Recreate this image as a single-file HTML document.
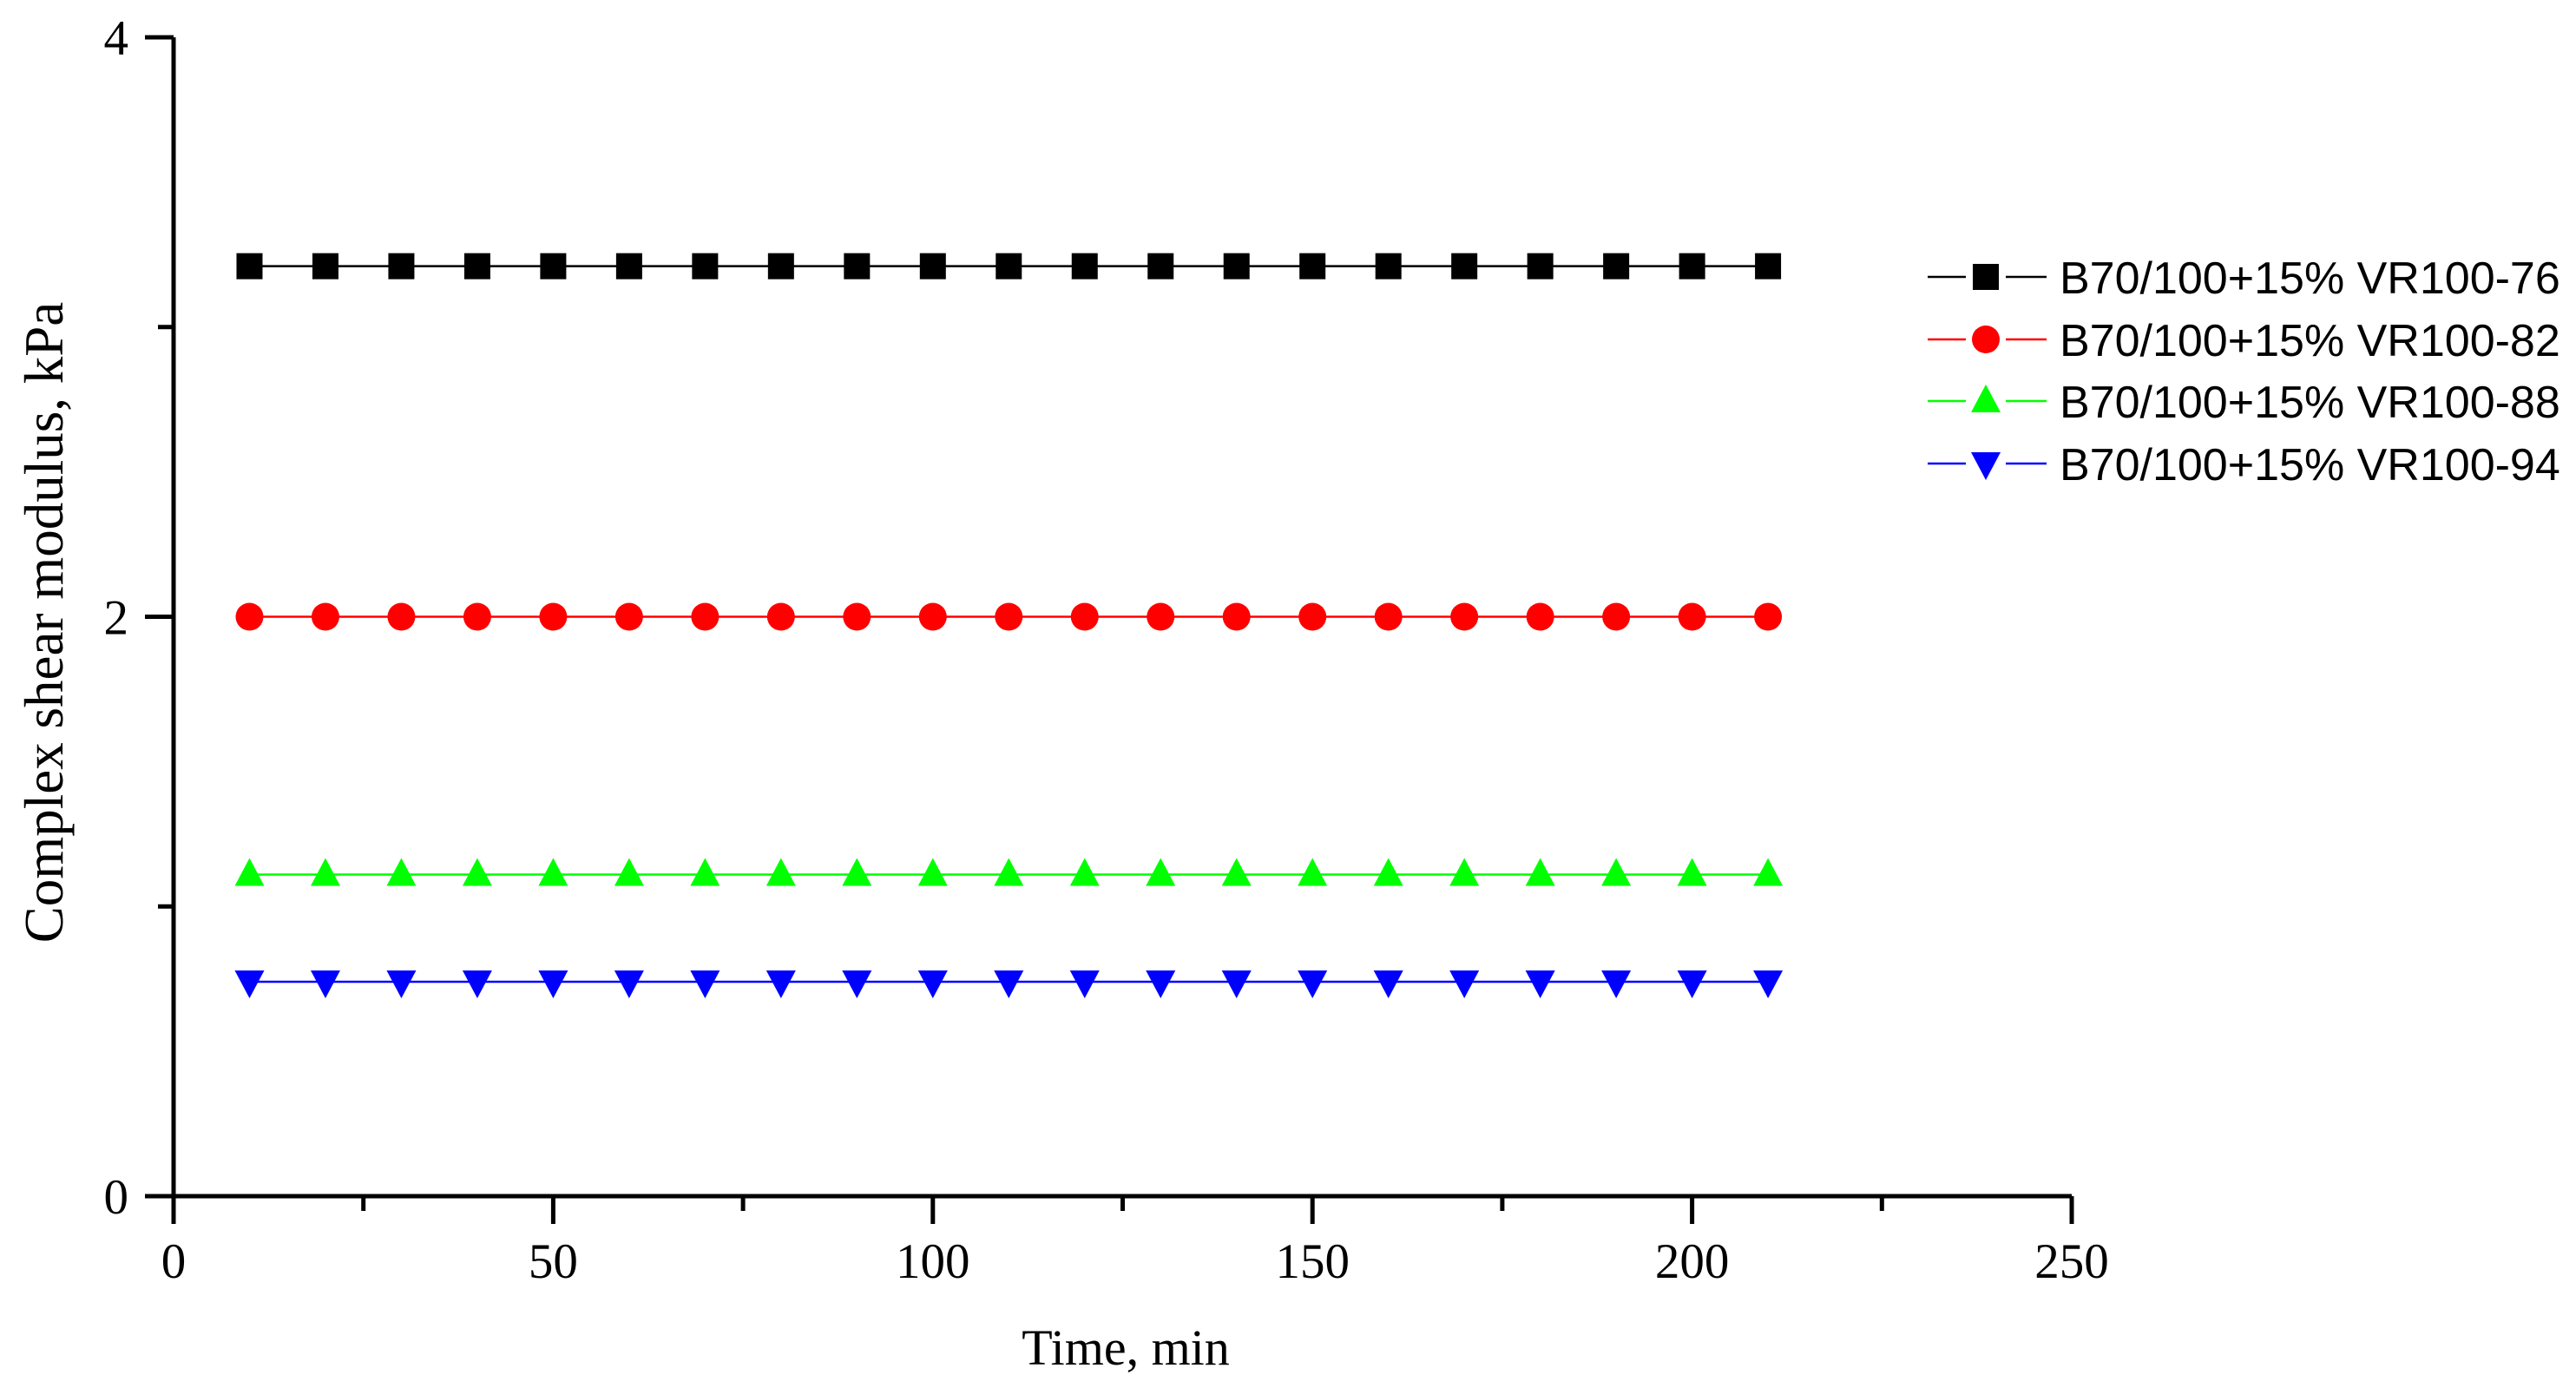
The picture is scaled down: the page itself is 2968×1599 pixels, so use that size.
<!DOCTYPE html>
<html><head><meta charset="utf-8"><style>html,body{margin:0;padding:0;background:#fff}svg{display:block}</style></head>
<body>
<svg id="chart" width="2968" height="1599" xmlns="http://www.w3.org/2000/svg"></svg>
<script>
const times=[10,20,30,40,50,60,70,80,90,100,110,120,130,140,150,160,170,180,190,200,210];
const seriesNames=["B70/100+15% VR100-76","B70/100+15% VR100-82","B70/100+15% VR100-88","B70/100+15% VR100-94"];
const s76=[3.21,3.21,3.21,3.21,3.21,3.21,3.21,3.21,3.21,3.21,3.21,3.21,3.21,3.21,3.21,3.21,3.21,3.21,3.21,3.21,3.21];
const s82=[2.0,2.0,2.0,2.0,2.0,2.0,2.0,2.0,2.0,2.0,2.0,2.0,2.0,2.0,2.0,2.0,2.0,2.0,2.0,2.0,2.0];
const s88=[1.11,1.11,1.11,1.11,1.11,1.11,1.11,1.11,1.11,1.11,1.11,1.11,1.11,1.11,1.11,1.11,1.11,1.11,1.11,1.11,1.11];
const s94=[0.74,0.74,0.74,0.74,0.74,0.74,0.74,0.74,0.74,0.74,0.74,0.74,0.74,0.74,0.74,0.74,0.74,0.74,0.74,0.74,0.74];
const xTicks=[0,50,100,150,200,250];
const xMinor=[25,75,125,175,225];
const yTicks=[0,2,4];
const yMinor=[1,3];

const NS="http://www.w3.org/2000/svg";
const svg=document.getElementById('chart');
const X0=200,X1=2387,Y0=1378,Y1=43;
const xs=v=>X0+(v-0)/(250-0)*(X1-X0);
const ys=v=>Y0-(v-0)/(4-0)*(Y0-Y1);
function mk(tag,attrs){const e=document.createElementNS(NS,tag);for(const k in attrs)e.setAttribute(k,attrs[k]);svg.appendChild(e);return e;}

const series=[{v:s76,c:"#000",m:"square"},{v:s82,c:"#ff0000",m:"circle"},{v:s88,c:"#00ff00",m:"up"},{v:s94,c:"#0000ff",m:"down"}];
function marker(m,x,y,c,name){
  let e;
  if(m==="square")e=mk('rect',{x:x-15,y:y-15,width:30,height:30,fill:c});
  else if(m==="circle")e=mk('circle',{cx:x,cy:y,r:16,fill:c});
  else if(m==="up")e=mk('polygon',{points:`${x},${y-19} ${x-17},${y+13} ${x+17},${y+13}`,fill:c});
  else e=mk('polygon',{points:`${x},${y+19} ${x-17},${y-13} ${x+17},${y-13}`,fill:c});
  
  
  return e;
}
series.forEach((s,si)=>{
  const pts=times.map((t,i)=>xs(t)+','+ys(s.v[i])).join(' ');
  const l=mk('polyline',{points:pts,fill:'none',stroke:s.c,'stroke-width':2.5});
  
  
  times.forEach((t,i)=>marker(s.m,xs(t),ys(s.v[i]),s.c,'point-'+si+'-'+i));
});

// axes
const ya=mk('line',{x1:X0,y1:Y1,x2:X0,y2:Y0,stroke:'#000','stroke-width':5});


const xa=mk('line',{x1:X0-2,y1:Y0,x2:X1,y2:Y0,stroke:'#000','stroke-width':5});


xTicks.forEach(t=>{
  const tk=mk('line',{x1:xs(t),y1:Y0,x2:xs(t),y2:Y0+32,stroke:'#000','stroke-width':5});
  
  
  const tx=mk('text',{x:xs(t),y:Y0+94,'text-anchor':'middle','font-family':'Liberation Serif, serif','font-size':57});
  tx.textContent=t;
  
  
});
xMinor.forEach(t=>{
  const tk=mk('line',{x1:xs(t),y1:Y0,x2:xs(t),y2:Y0+17,stroke:'#000','stroke-width':5});
  
  
});
yTicks.forEach(t=>{
  const tk=mk('line',{x1:X0-33,y1:ys(t),x2:X0,y2:ys(t),stroke:'#000','stroke-width':5});
  
  
  const tx=mk('text',{x:148,y:ys(t)+20,'text-anchor':'end','font-family':'Liberation Serif, serif','font-size':57});
  tx.textContent=t;
  
  
});
yMinor.forEach(t=>{
  const tk=mk('line',{x1:X0-18,y1:ys(t),x2:X0,y2:ys(t),stroke:'#000','stroke-width':5});
  
  
});
const xt=mk('text',{x:1297,y:1572,'text-anchor':'middle','font-family':'Liberation Serif, serif','font-size':58});
xt.textContent='Time, min';


const yt=mk('text',{x:0,y:0,'text-anchor':'middle','font-family':'Liberation Serif, serif','font-size':63,transform:'translate(72,717) rotate(-90)'});
yt.textContent='Complex shear modulus, kPa';



// legend
const legY=[319,391,462,534];
series.forEach((s,si)=>{
  const y=legY[si];
  const l=mk('line',{x1:2221,y1:y,x2:2265,y2:y,stroke:s.c,'stroke-width':2.5});
  
  
  const l2=mk('line',{x1:2311,y1:y,x2:2358,y2:y,stroke:s.c,'stroke-width':2.5});
  
  
  marker(s.m,2288,y,s.c,'legend-marker-'+si);
  const t=mk('text',{x:2373,y:y+19,'font-family':'Liberation Sans, sans-serif','font-size':52});
  t.textContent=seriesNames[si];
  
  
});
</script>
</body></html>
